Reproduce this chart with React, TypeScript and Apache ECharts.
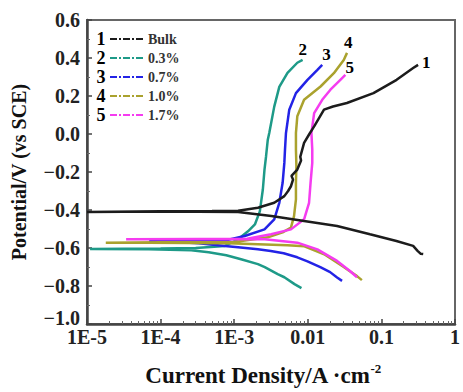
import React, { useEffect, useRef } from 'react';
import * as echarts from 'echarts';

// ---- data (current density A/cm^2, potential V vs SCE) ----
const seriesNames = ['Bulk', '0.3%', '0.7%', '1.0%', '1.7%'];
const seriesNumbers = ['1', '2', '3', '4', '5'];
const seriesColors = ['#1c1c1c', '#1e9a88', '#2323e6', '#aaa22e', '#f53cf0'];

const xTickValues = [1e-5, 1e-4, 1e-3, 0.01, 0.1, 1];
const xTickLabels = ['1E-5', '1E-4', '1E-3', '0.01', '0.1', '1'];

const bulkData = [
  [0.37, -0.632], [0.34, -0.63], [0.31, -0.615], [0.27, -0.589], [0.16, -0.563],
  [0.07, -0.528], [0.025, -0.484], [0.0089, -0.458], [0.0032, -0.432], [0.00113, -0.41],
  [3.2e-4, -0.409], [1e-4, -0.409], [3.2e-5, -0.409], [1e-5, -0.41],
  [1e-5, -0.407], [1e-4, -0.406], [5e-4, -0.405], [1.13e-3, -0.404], [2.1e-3, -0.388],
  [3.5e-3, -0.362], [4.8e-3, -0.327], [5.4e-3, -0.3], [5.9e-3, -0.275], [6.3e-3, -0.24],
  [6.0e-3, -0.22], [7.2e-3, -0.187], [8.1e-3, -0.14], [7.9e-3, -0.12], [8.9e-3, -0.047],
  [0.0105, 0.0], [0.0122, 0.04], [0.0166, 0.128], [0.022, 0.145], [0.034, 0.163],
  [0.078, 0.215], [0.161, 0.285], [0.27, 0.347], [0.315, 0.364],
];

const wt03Data = [
  [8.2e-3, -0.811], [6.6e-3, -0.79], [4.8e-3, -0.754], [3.9e-3, -0.738], [2.6e-3, -0.701],
  [2.1e-3, -0.685], [1.24e-3, -0.659], [7.8e-4, -0.638], [4.5e-4, -0.622], [2.6e-4, -0.612],
  [6.9e-5, -0.607], [1.1e-5, -0.605],
  [1.1e-5, -0.603], [1e-4, -0.602], [3e-4, -0.6], [7.5e-4, -0.589], [1.13e-3, -0.554],
  [1.54e-3, -0.512], [1.91e-3, -0.476], [2.23e-3, -0.407], [2.45e-3, -0.292], [2.58e-3, -0.187],
  [2.71e-3, -0.117], [2.86e-3, -0.03], [3.0e-3, 0.007], [3.5e-3, 0.144], [4.1e-3, 0.248],
  [5.3e-3, 0.322], [7.2e-3, 0.375], [8.5e-3, 0.39],
];

const wt07Data = [
  [0.0292, -0.773], [0.025, -0.755], [0.0201, -0.727], [0.0148, -0.701], [9.9e-3, -0.67],
  [7.2e-3, -0.649], [4.7e-3, -0.628], [3.14e-3, -0.616], [2.1e-3, -0.607], [1.13e-3, -0.596],
  [7.5e-4, -0.589], [3.3e-4, -0.575], [1.2e-4, -0.566], [7e-5, -0.565],
  [7e-5, -0.563], [3.3e-4, -0.564], [7e-4, -0.563], [1.39e-3, -0.537], [2.58e-3, -0.502],
  [3.5e-3, -0.449], [4.1e-3, -0.362], [4.55e-3, -0.257], [4.8e-3, -0.152], [4.9e-3, -0.082],
  [5.05e-3, 0.005], [5.6e-3, 0.128], [6.9e-3, 0.215], [9.9e-3, 0.285], [0.0135, 0.338],
  [0.0157, 0.364],
];

const wt10Data = [
  [0.0543, -0.769], [0.0466, -0.748], [0.0311, -0.701], [0.0167, -0.633], [9.0e-3, -0.591],
  [5.3e-3, -0.586], [2.1e-3, -0.58], [8.3e-4, -0.575], [7e-5, -0.573], [1.8e-5, -0.572],
  [1.8e-5, -0.57], [1e-4, -0.57], [5e-4, -0.57], [1e-3, -0.568], [2.86e-3, -0.544],
  [4.55e-3, -0.518], [5.9e-3, -0.493], [6.5e-3, -0.432], [6.9e-3, -0.344], [6.9e-3, -0.257],
  [7.0e-3, -0.17], [6.9e-3, -0.082], [6.9e-3, 0.006], [7.2e-3, 0.093], [8.9e-3, 0.18],
  [0.0149, 0.25], [0.0226, 0.32], [0.0308, 0.39], [0.0341, 0.427],
];

const wt17Data = [
  [0.0466, -0.754], [0.0374, -0.721], [0.025, -0.668], [0.0135, -0.607], [7.2e-3, -0.572],
  [2.6e-3, -0.554], [3.3e-4, -0.554], [3.4e-5, -0.554],
  [3.4e-5, -0.552], [3.3e-4, -0.552], [1.5e-3, -0.551], [3.17e-3, -0.528], [5.9e-3, -0.502],
  [8.9e-3, -0.449], [0.0104, -0.362], [0.0109, -0.257], [0.0115, -0.152], [0.0115, -0.082],
  [0.0112, 0.006], [0.0122, 0.11], [0.0157, 0.18], [0.0203, 0.233], [0.0277, 0.285],
  [0.0324, 0.311],
];

const allData = [bulkData, wt03Data, wt07Data, wt10Data, wt17Data];
const endLabelOffsets = [[4, -2], [-4, -10], [0, -10], [-3, -10], [0, -7]];
const seriesZ = [7, 2, 3, 4, 5];

const FONT = '"Liberation Serif", "Times New Roman", serif';

export default function App() {
  const ref = useRef<HTMLDivElement>(null);
  useEffect(() => {
    if (!ref.current) return;
    const chart = echarts.init(ref.current, undefined, { renderer: 'svg' });
    const option: any = {
      animation: false,
      backgroundColor: '#ffffff',
      grid: {
        left: 87, right: 3, top: 20, bottom: 67,
        show: true, borderColor: '#666', borderWidth: 2, backgroundColor: 'transparent',
      },
      legend: {
        orient: 'vertical', left: 109, top: 32, padding: 0,
        itemWidth: 33, itemHeight: 14, itemGap: 5,
        data: seriesNames,
        itemStyle: { opacity: 0 },
        lineStyle: { type: [7, 2, 2, 2], width: 2 },
        textStyle: { fontFamily: FONT, fontWeight: 'bold', fontSize: 14, color: '#333', lineHeight: 14 },
      },
      graphic: seriesNumbers.map((n, i) => ({
        type: 'text', x: 101, y: 39 + 19 * i, z: 10,
        style: { text: n, fontFamily: FONT, fontWeight: 'bold', fontSize: 18, fill: '#000', align: 'center', verticalAlign: 'middle' },
      })),
      xAxis: {
        type: 'log', logBase: 10, min: 1e-5, max: 1,
        axisLine: { show: true, onZero: false, lineStyle: { color: '#444', width: 2.5 } },
        axisTick: { show: true, inside: true, length: 5, lineStyle: { color: '#444', width: 1.5 } },
        minorTick: { show: true, splitNumber: 9, length: 3, lineStyle: { color: '#666', width: 1 } },
        splitLine: { show: false },
        minorSplitLine: { show: false },
        axisLabel: {
          fontFamily: FONT, fontWeight: 'bold', fontSize: 20, color: '#222', margin: 7, lineHeight: 12,
          showMinLabel: true, showMaxLabel: true,
          formatter: (v: number) => {
            const i = xTickValues.findIndex((t) => Math.abs(Math.log10(t) - Math.log10(v)) < 1e-6);
            return i >= 0 ? xTickLabels[i] : '';
          },
        },
        name: 'Current Density/A ·cm{sup|-2}',
        nameLocation: 'middle', nameGap: 38,
        nameTextStyle: {
          fontFamily: FONT, fontWeight: 'bold', fontSize: 23, color: '#111', padding: [0, 16, 0, 0],
          rich: { sup: { fontFamily: FONT, fontWeight: 'bold', fontSize: 13, color: '#111', padding: [0, 0, 14, 0] } },
        },
      },
      yAxis: {
        type: 'value', min: -1.0, max: 0.6, interval: 0.2,
        axisLine: { show: true, onZero: false, lineStyle: { color: '#444', width: 2.5 } },
        axisTick: { show: true, inside: true, length: 5, lineStyle: { color: '#444', width: 1.5 } },
        minorTick: { show: true, splitNumber: 2, length: 3, lineStyle: { color: '#666', width: 1 } },
        splitLine: { show: false },
        axisLabel: {
          fontFamily: FONT, fontWeight: 'bold', fontSize: 20, color: '#222', margin: 7, lineHeight: 12,
          verticalAlignMinLabel: 'bottom',
          formatter: (v: number) => (v < 0 ? '\u2212' + Math.abs(v).toFixed(1) : v.toFixed(1)),
        },
        name: 'Potential/V (vs SCE)',
        nameLocation: 'middle', nameRotate: 90, nameGap: 58,
        nameTextStyle: { fontFamily: FONT, fontWeight: 'bold', fontSize: 20, color: '#111' },
      },
      series: allData.map((d, i) => ({
        type: 'line', name: seriesNames[i], data: d,
        symbol: 'none', showSymbol: false, smooth: false,
        z: seriesZ[i],
        lineStyle: { color: seriesColors[i], width: 2.5 },
        itemStyle: { color: seriesColors[i] },
        endLabel: {
          show: true, formatter: seriesNumbers[i], distance: 0, offset: endLabelOffsets[i],
          fontFamily: FONT, fontWeight: 'bold', fontSize: 17, color: '#000',
        },
      })),
    };
    chart.setOption(option);
    return () => chart.dispose();
  }, []);
  return <div ref={ref} style={{ position: 'absolute', left: 0, top: 0, width: 463, height: 392 }} />;
}
